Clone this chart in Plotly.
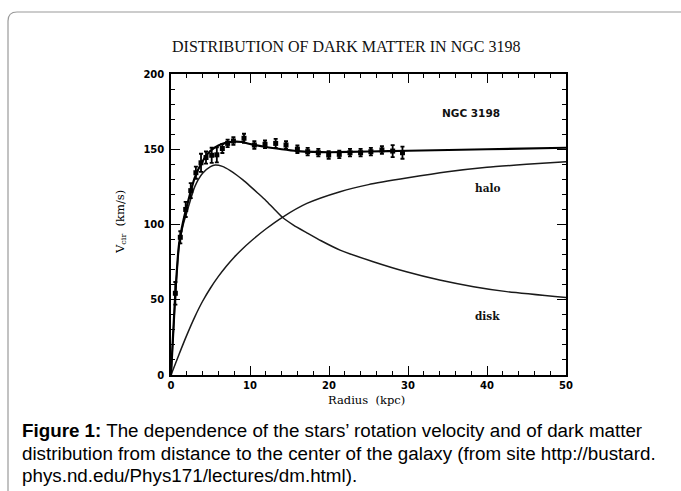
import plotly.graph_objects as go

# ---------------- data ----------------
obs_r = [0.55, 1.18, 1.86, 2.5, 3.15, 3.8, 4.43, 5.15, 5.8, 6.5, 7.17, 7.9,
         9.24, 10.55, 11.9, 13.25, 14.56, 16.0, 17.3, 18.65, 19.96, 21.3,
         22.66, 24.0, 25.3, 26.7, 28.06, 29.3]
obs_v = [54.3, 91.5, 110, 122.5, 134.4, 141, 144.5, 146, 146.3, 150.5, 153.9, 155.5,
         157.3, 152.8, 153.3, 153.9, 152.8, 150, 148.4, 147.7, 146.2, 146.6,
         147.7, 147.7, 148.4, 149.5, 148.8, 147.7]
obs_err = [7.5, 4, 5, 5, 4, 6, 4, 5, 5, 3, 2.5, 2.5,
           3, 2.5, 2.5, 3, 2.5, 2.5, 2.5, 2.5, 2.5, 2.5,
           2.5, 2.5, 2.5, 2.5, 4, 4]

total_r = [0, 0.5, 1, 1.5, 2, 3, 4, 5, 6, 7, 8, 9, 10, 12, 14, 16, 18, 20, 25, 30, 40, 50]
total_v = [0, 50, 86, 101, 112, 131, 142, 149, 152.5, 154.5, 155, 154.8, 153.5, 151.5,
           150, 148.8, 148.2, 148, 148.5, 149, 150, 151]

disk_r = [0, 0.5, 1, 1.5, 2, 3, 4, 5, 5.6, 6.5, 7.5, 8.3, 9.1, 10, 11, 12, 13, 14.1,
          15.5, 17.2, 19, 21.4, 25.6, 29.8, 34, 38.3, 42.5, 50]
disk_v = [0, 48, 85, 99, 108, 125, 134, 138.5, 139.5, 138.6, 135.8, 132.9, 129.6,
          125.5, 120.8, 116, 110.6, 104.8, 99.6, 94.5, 89.2, 83, 75.3, 68.6, 63.1,
          58.7, 55.4, 51.5]

halo_r = [0, 1, 2, 3, 4, 5, 6, 7, 8, 9, 10, 12, 14.1, 17.2, 21.4, 25, 30, 35, 40, 45, 50]
halo_v = [0, 13.5, 26.5, 38.5, 49, 57.8, 65.5, 72.3, 78.3, 83.6, 88.4, 97, 104.8, 114,
          121.8, 126.5, 131, 135, 138, 140, 141.7]

x_ticks = [0, 10, 20, 30, 40, 50]
y_ticks = [0, 50, 100, 150, 200]

title_text = "DISTRIBUTION OF DARK MATTER IN NGC 3198"
caption_lines = [
    "<b>Figure 1:</b> The dependence of the stars\u2019 rotation velocity and of dark matter",
    "distribution from distance to the center of the galaxy (from site http://bustard.",
    "phys.nd.edu/Phys171/lectures/dm.html).",
]

# ---------------- layout geometry ----------------
W, H = 681, 491
L, R, T, B = 171, 115, 74, 116
PW, PH = W - L - R, H - T - B


def px(x):
    return (x - L) / PW


def py(y):
    return (H - B - y) / PH


fig = go.Figure()

line_col = "#1a1a1a"
fig.add_trace(go.Scatter(x=halo_r, y=halo_v, mode="lines",
                         line=dict(color=line_col, width=1.5, shape="spline", smoothing=0.6), hoverinfo="skip"))
fig.add_trace(go.Scatter(x=disk_r, y=disk_v, mode="lines",
                         line=dict(color=line_col, width=1.5, shape="spline", smoothing=0.6), hoverinfo="skip"))
fig.add_trace(go.Scatter(x=total_r, y=total_v, mode="lines",
                         line=dict(color="#000", width=2.2, shape="spline", smoothing=0.6), hoverinfo="skip"))
fig.add_trace(go.Scatter(x=obs_r, y=obs_v, mode="markers",
                         marker=dict(symbol="square", size=5, color="#000"),
                         error_y=dict(type="data", array=obs_err, color="#000", thickness=1.8, width=2),
                         hoverinfo="skip"))

axis_common = dict(showgrid=False, zeroline=False, showline=True, linecolor="#000", linewidth=1.5,
                   ticks="inside", ticklen=9, tickwidth=1.3, tickcolor="#000", mirror="ticks",
                   tickfont=dict(family="DejaVu Sans", size=10, color="#000", weight="bold"))

fig.update_xaxes(range=[0, 50], tickvals=x_ticks, ticktext=[str(v) for v in x_ticks],
                 minor=dict(ticks="inside", dtick=2, ticklen=4.5, tickwidth=1.1, tickcolor="#000"),
                 **axis_common)
fig.update_yaxes(range=[0, 200], tickvals=y_ticks, ticktext=[str(v) for v in y_ticks],
                 minor=dict(ticks="inside", dtick=10, ticklen=4.5, tickwidth=1.1, tickcolor="#000"),
                 ticklabelstandoff=3, **axis_common)

annos = [
    dict(x=px(346), y=py(46), xref="paper", yref="paper", text=title_text, showarrow=False,
         font=dict(family="Liberation Serif", size=16, color="#111"), xanchor="center", yanchor="middle"),
    dict(x=px(366), y=py(400), xref="paper", yref="paper", text="Radius  (kpc)", showarrow=False,
         font=dict(family="DejaVu Serif", size=11.5, color="#000"), xanchor="center", yanchor="middle"),
    dict(x=px(120), y=py(222), xref="paper", yref="paper", text="V<sub>cir</sub>  (km/s)", showarrow=False,
         textangle=-90, font=dict(family="DejaVu Serif", size=11.5, color="#000"), xanchor="center", yanchor="middle"),
    dict(x=38, y=174, xref="x", yref="y", text="<b>NGC 3198</b>", showarrow=False,
         font=dict(family="DejaVu Sans", size=10.5, color="#111")),
    dict(x=40, y=124, xref="x", yref="y", text="<b>halo</b>", showarrow=False,
         font=dict(family="DejaVu Serif", size=10.5, color="#111")),
    dict(x=40, y=39.5, xref="x", yref="y", text="<b>disk</b>", showarrow=False,
         font=dict(family="DejaVu Serif", size=10.5, color="#111")),
]
for txt, yy in zip(caption_lines, [431, 453, 475]):
    annos.append(dict(x=px(20), y=py(yy), xref="paper", yref="paper", text=txt, showarrow=False,
                      font=dict(family="Liberation Sans", size=18.8, color="#000"),
                      xanchor="left", yanchor="middle", align="left"))

# rounded frame (continues past right/bottom edges)
x0, y0, x1, y1, rr = 8, 12, 700, 520, 9
path = (f"M {px(x0)},{py(y1)} L {px(x0)},{py(y0 + rr)} Q {px(x0)},{py(y0)} {px(x0 + rr)},{py(y0)} "
        f"L {px(x1)},{py(y0)}")
shapes = [dict(type="path", path=path, xref="paper", yref="paper", line=dict(color="#9a9a9a", width=1.2))]

fig.update_layout(width=W, height=H, margin=dict(l=L, r=R, t=T, b=B, autoexpand=False),
                  paper_bgcolor="#fff", plot_bgcolor="#fff", showlegend=False,
                  annotations=annos, shapes=shapes)

fig.write_html("out.html", config={"displayModeBar": False},
               post_script="document.body.style.margin='0';")
